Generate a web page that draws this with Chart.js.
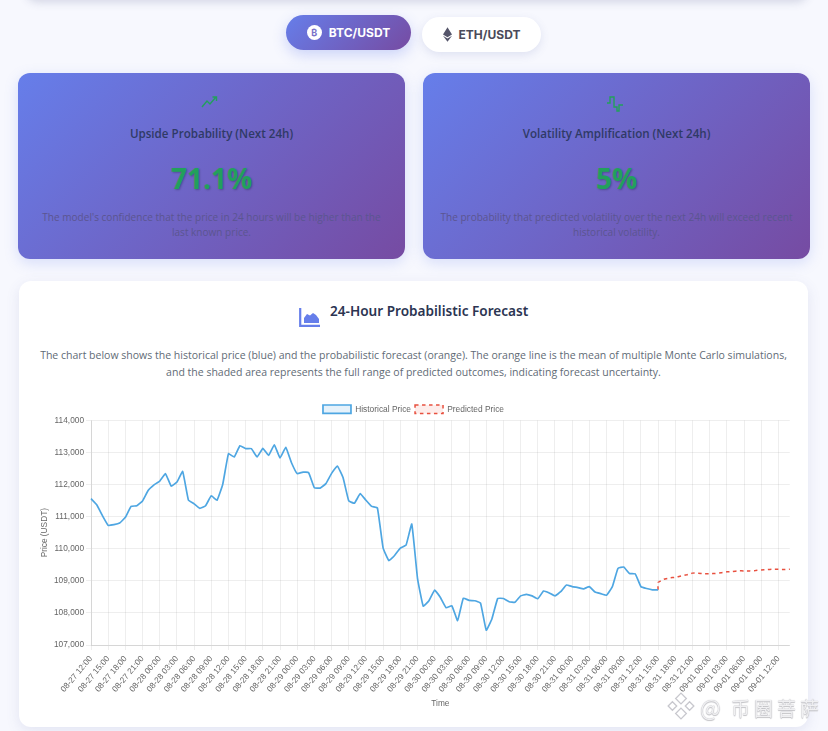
<!DOCTYPE html>
<html>
<head>
<meta charset="utf-8">
<title>24-Hour Probabilistic Forecast</title>
<script src="https://cdn.jsdelivr.net/npm/chart.js@4"></script>
<style>
* { box-sizing: border-box; }
html, body { margin: 0; padding: 0; }
body { width: 828px; height: 731px; overflow: hidden; position: relative; background: #f7f8fe; font-family: "Open Sans", "Noto Sans", sans-serif; color: #2c3e50; }
.top-edge { position: absolute; left: 26px; top: -34px; width: 782px; height: 33px; background: #fff; border-radius: 12px; box-shadow: 0 3px 10px rgba(60,70,120,.2); }
.pill { position: absolute; border-radius: 18px; font-family: Inter, sans-serif; font-weight: 700; font-size: 12px; display: flex; align-items: center; gap: 7px; justify-content: center; }
.pill.on { left: 286px; top: 15px; width: 125px; height: 35px; color: #fff; background: linear-gradient(135deg, #667eea, #764ba2); box-shadow: 0 5px 14px rgba(102,126,234,.3); }
.pill.off { left: 422px; top: 17px; width: 119px; height: 35px; color: #4a4a5a; background: #fff; box-shadow: 0 3px 10px rgba(80,90,160,.14); }
.coin { width: 15px; height: 15px; border-radius: 50%; background: #fff; color: #7a72c8; font-size: 9px; text-align: center; line-height: 15px; }
.stat { position: absolute; top: 73px; width: 387px; height: 186px; border-radius: 12px; text-align: center; background: linear-gradient(135deg, #667eea, #764ba2); box-shadow: 0 4px 14px rgba(102,126,234,.22); }
.stat svg { position: absolute; left: 50%; top: 22px; margin-left: -11px; }
.stat h3 { position: absolute; left: 0; right: 0; top: 53px; margin: 0; font-size: 11.6px; line-height: 16px; font-weight: 600; color: #2f3a66; }
.stat .val { position: absolute; left: 0; right: 0; top: 85px; font-size: 28px; line-height: 40px; font-weight: 700; color: #22a05c; text-shadow: 1px 1px 2px rgba(0,0,0,.25); }
.stat p { position: absolute; left: 17px; right: 17px; top: 137px; margin: 0; font-size: 10.05px; line-height: 15px; color: #5b5590; }
.panel { position: absolute; left: 19px; top: 281px; width: 789px; height: 446px; background: #fff; border-radius: 12px; box-shadow: 0 4px 14px rgba(80,90,160,.12); }
.panel h2 { position: absolute; left: 311px; top: 20px; margin: 0; font-family: "Noto Sans", sans-serif; font-size: 13.6px; line-height: 20px; font-weight: 600; color: #2c3552; white-space: nowrap; }
.panel svg.ic { position: absolute; left: 280px; top: 27px; }
.panel p { position: absolute; left: 0; right: 0; top: 66px; margin: 0; text-align: center; font-size: 10.53px; line-height: 17px; color: #5f6b76; }
.chart-box { position: absolute; left: 37px; top: 401px; width: 753px; height: 311px; }
.mark { position: absolute; left: 667px; top: 690px; display: flex; align-items: center; gap: 5px; color: #f0f0f2; font-family: "Noto Sans CJK SC", sans-serif; font-size: 19px; letter-spacing: 4px; text-shadow: 0 0 1px #a8a8ae, 0 1px 1px #c4c4c8; }
.mark b { font-weight: 400; font-size: 22px; letter-spacing: 0; margin-right: 2px; }
</style>
</head>
<body>
<div class="top-edge"></div>
<div class="pill on"><span class="coin">₿</span>BTC/USDT</div>
<div class="pill off"><svg width="9" height="15" viewBox="0 0 10 16"><path d="M5 0 L10 8 L5 11 L0 8 Z M0 9.4 L5 12.4 L10 9.4 L5 16 Z" fill="#55556a"/></svg>ETH/USDT</div>

<div class="stat" style="left:18px">
  <svg width="18" height="14" viewBox="0 0 18 14"><path d="M1 12 L6 6 L9 9 L15 2 M11.5 2 H15.5 V6" fill="none" stroke="#22a05c" stroke-width="1.4"/></svg>
  <h3>Upside Probability (Next 24h)</h3>
  <div class="val">71.1%</div>
  <p>The model's confidence that the price in 24 hours will be higher than the last known price.</p>
</div>
<div class="stat" style="left:423px">
  <svg width="18" height="18" viewBox="0 0 18 18"><path d="M1 8 H4 V2 H8 V12 H11 V16 H13 V10 H17" fill="none" stroke="#22a05c" stroke-width="1.4"/></svg>
  <h3>Volatility Amplification (Next 24h)</h3>
  <div class="val">5%</div>
  <p>The probability that predicted volatility over the next 24h will exceed recent historical volatility.</p>
</div>

<div class="panel">
  <svg class="ic" width="22" height="19" viewBox="0 0 22 19"><path d="M1.2 0 V17.8 H21" fill="none" stroke="#667eea" stroke-width="2.2"/><path d="M5 15 V10 L8 6 L11 7.5 L14 5 L17 7 L20 11 V15 Z" fill="#667eea"/></svg>
  <h2>24-Hour Probabilistic Forecast</h2>
  <p>The chart below shows the historical price (blue) and the probabilistic forecast (orange). The orange line is the mean of multiple Monte Carlo simulations,<br>and the shaded area represents the full range of predicted outcomes, indicating forecast uncertainty.</p>
</div>
<div class="chart-box"><canvas id="forecastChart"></canvas></div>
<div class="mark"><svg width="28" height="30" viewBox="0 0 26 28"><path d="M13 2 L18 7 L13 12 L8 7 Z M5 10 L9 14 L5 18 L1 14 Z M21 10 L25 14 L21 18 L17 14 Z M13 16 L18 21 L13 26 L8 21 Z" fill="none" stroke="#c8c8ce" stroke-width="1.2"/></svg><span><b>@</b> 币圈菩萨</span></div>

<script>
// hourly categories, a tick is shown every third one
const timeLabels = [
    '08-27 12:00','08-27 13:00','08-27 14:00','08-27 15:00','08-27 16:00','08-27 17:00','08-27 18:00','08-27 19:00','08-27 20:00','08-27 21:00','08-27 22:00','08-27 23:00',
    '08-28 00:00','08-28 01:00','08-28 02:00','08-28 03:00','08-28 04:00','08-28 05:00','08-28 06:00','08-28 07:00','08-28 08:00','08-28 09:00','08-28 10:00','08-28 11:00',
    '08-28 12:00','08-28 13:00','08-28 14:00','08-28 15:00','08-28 16:00','08-28 17:00','08-28 18:00','08-28 19:00','08-28 20:00','08-28 21:00','08-28 22:00','08-28 23:00',
    '08-29 00:00','08-29 01:00','08-29 02:00','08-29 03:00','08-29 04:00','08-29 05:00','08-29 06:00','08-29 07:00','08-29 08:00','08-29 09:00','08-29 10:00','08-29 11:00',
    '08-29 12:00','08-29 13:00','08-29 14:00','08-29 15:00','08-29 16:00','08-29 17:00','08-29 18:00','08-29 19:00','08-29 20:00','08-29 21:00','08-29 22:00','08-29 23:00',
    '08-30 00:00','08-30 01:00','08-30 02:00','08-30 03:00','08-30 04:00','08-30 05:00','08-30 06:00','08-30 07:00','08-30 08:00','08-30 09:00','08-30 10:00','08-30 11:00',
    '08-30 12:00','08-30 13:00','08-30 14:00','08-30 15:00','08-30 16:00','08-30 17:00','08-30 18:00','08-30 19:00','08-30 20:00','08-30 21:00','08-30 22:00','08-30 23:00',
    '08-31 00:00','08-31 01:00','08-31 02:00','08-31 03:00','08-31 04:00','08-31 05:00','08-31 06:00','08-31 07:00','08-31 08:00','08-31 09:00','08-31 10:00','08-31 11:00',
    '08-31 12:00','08-31 13:00','08-31 14:00','08-31 15:00','08-31 16:00','08-31 17:00','08-31 18:00','08-31 19:00','08-31 20:00','08-31 21:00','08-31 22:00','08-31 23:00',
    '09-01 00:00','09-01 01:00','09-01 02:00','09-01 03:00','09-01 04:00','09-01 05:00','09-01 06:00','09-01 07:00','09-01 08:00','09-01 09:00','09-01 10:00','09-01 11:00',
    '09-01 12:00','09-01 13:00','09-01 14:00'
];

const historicalPrice = [
    111560,111370,111030,110730,110750,110800,110980,111320,111340,111490,111820,111990,
    112110,112340,111950,112080,112410,111520,111400,111260,111340,111650,111510,112010,
    112960,112860,113210,113120,113120,112860,113130,112910,113240,112830,113160,112680,
    112340,112390,112370,111900,111890,112030,112350,112580,112220,111490,111420,111720,
    111510,111320,111270,110020,109630,109790,110020,110110,110770,109080,108210,108380,
    108710,108480,108160,108220,107760,108460,108390,108380,108310,107460,107820,108450,
    108450,108350,108330,108530,108580,108530,108440,108680,108620,108530,108660,108870,
    108820,108790,108750,108820,108650,108600,108550,108810,109390,109430,109230,109220,
    108820,108760,108720,108720
];

// the forecast leaves from the last known price, both at 08-31 15:00
const lastKnownPrice = 108720;
const predictedStart = 99;
const predictedPrice = [
    108950,109050,109090,109110,109150,109190,109240,109240,109220,109220,109230,109250,
    109280,109290,109310,109310,109310,109320,109340,109350,109360,109360,109350,109360
];

const priceTicks = [107000, 108000, 109000, 110000, 111000, 112000, 113000, 114000];

const legendFont = { family: '"Liberation Sans", Arial, sans-serif', size: 8.4 };
const tickFont = { family: '"Liberation Sans", Arial, sans-serif', size: 8.3 };

const predictedPoints = [{ x: timeLabels[predictedStart], y: lastKnownPrice }]
    .concat(predictedPrice.map((v, i) => ({ x: timeLabels[predictedStart + i], y: v })));

// pull the plot a little closer to the legend
const legendGap = {
    id: 'legendGap',
    beforeInit(chart) {
        const fit = chart.legend.fit;
        chart.legend.fit = function () { fit.call(this); this.height -= 3; };
    }
};

new Chart(document.getElementById('forecastChart').getContext('2d'), {
    type: 'line',
    plugins: [legendGap],
    data: {
        labels: timeLabels,
        datasets: [
            { label: 'Historical Price', data: historicalPrice, borderColor: '#4ea6e2', backgroundColor: 'rgba(52,152,219,0.12)', borderWidth: 1.7, pointRadius: 0, tension: 0.1, fill: false },
            { label: 'Predicted Price', data: predictedPoints, borderColor: '#e8503f', backgroundColor: 'rgba(231,76,60,0.1)', borderWidth: 1.5, borderDash: [3.5, 3.5], pointRadius: 0, tension: 0.1, fill: false }
        ]
    },
    options: {
        responsive: true,
        maintainAspectRatio: false,
        animation: false,
        layout: { padding: 0 },
        plugins: {
            legend: { position: 'top', labels: { boxWidth: 28, boxHeight: 8.4, padding: 4, color: '#666', font: legendFont } },
            tooltip: { enabled: false }
        },
        scales: {
            x: {
                afterBuildTicks: axis => { axis.ticks = axis.ticks.filter((t, i) => i % 3 === 0); },
                afterFit: axis => { axis.height = 67; },
                title: { display: true, text: 'Time', color: '#666', font: tickFont, padding: 3 },
                grid: { color: 'rgba(0,0,0,0.085)', lineWidth: 0.8, tickLength: 5 },
                ticks: { color: '#666', font: tickFont, maxRotation: 50, minRotation: 50, autoSkip: false, padding: 4 }
            },
            y: {
                min: 107000,
                max: 114000,
                afterBuildTicks: axis => { axis.ticks = priceTicks.map(v => ({ value: v })); },
                afterFit: axis => { axis.width = 54; },
                title: { display: true, text: 'Price (USDT)', color: '#666', font: tickFont, padding: 3 },
                grid: { color: 'rgba(0,0,0,0.085)', lineWidth: 0.8, tickLength: 5 },
                ticks: { color: '#666', font: tickFont, padding: 2, callback: v => v.toLocaleString('en-US') }
            }
        }
    }
});
</script>
</body>
</html>
